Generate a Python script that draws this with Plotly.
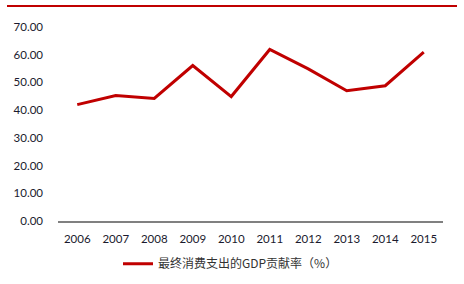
import plotly.graph_objects as go

years = ["2006", "2007", "2008", "2009", "2010", "2011", "2012", "2013", "2014", "2015"]
contribution = [42.0, 45.3, 44.2, 56.1, 44.9, 61.9, 54.9, 47.0, 48.8, 60.9]
series_name = "最终消费支出的GDP贡献率（%）"
y_ticks = [0, 10, 20, 30, 40, 50, 60, 70]

fig = go.Figure()
fig.add_trace(go.Scatter(
    x=years, y=contribution, mode="lines", name=series_name,
    line=dict(color="#c00000", width=3),
))

fig.update_layout(
    width=464, height=284,
    margin=dict(l=58, r=21, t=27, b=63, autoexpand=False),
    paper_bgcolor="white", plot_bgcolor="white",
    font=dict(family="Lato, 'Noto Sans CJK SC', sans-serif", size=11.5, color="#1a1a2e"),
    showlegend=True,
    legend=dict(orientation="h", x=(118-58)/385, xanchor="left", y=-0.22, yanchor="middle",
                font=dict(family="'Noto Sans CJK SC', sans-serif", size=12, color="#333"),
                itemwidth=30),
    shapes=[dict(type="line", xref="paper", yref="paper",
                 x0=-51/385, x1=(457-58)/385, y0=1 + 21/194, y1=1 + 21/194,
                 line=dict(color="#c00000", width=2))],
)
fig.update_xaxes(
    type="category", range=[-0.5, 9.5], showgrid=False,
    showline=True, linecolor="#808080", linewidth=2,
    ticks="", ticklabelstandoff=6,
)
fig.update_yaxes(
    range=[0, 70], tickvals=y_ticks, ticktext=[f"{v:.2f}" for v in y_ticks],
    showgrid=False, zeroline=False, showline=False, ticks="",
    ticklabelstandoff=14,
)
fig.write_html("out.html")
